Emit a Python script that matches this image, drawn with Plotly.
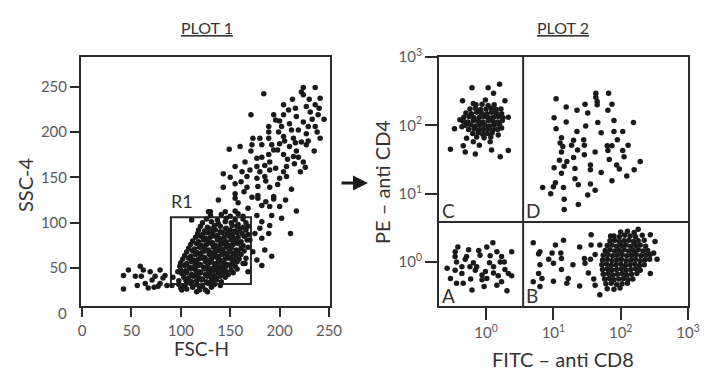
import plotly.graph_objects as go

# ---------------- PLOT 1 data (FSC-H, SSC-4) ----------------
p1_upper = [(224,249),(236,249),(184,242),(224,241),(213,236),(241,237),(204,230),(216,226),(227,228),(236,230),
            (231,222),(171,219),(194,219),(204,219),(217,217),(239,219),(224,211),(210,209),(189,206),(202,206),
            (236,206),(189,200),(199,200),(212,202),(227,198),(173,193),(180,193),(204,195),(189,193),(214,193),
            (241,193),(200,187),(222,189),(160,184),(172,186),(182,186),(192,186),(210,184),(227,186),(149,181),
            (171,179),(194,180),(217,179),(235,179),(189,175),(204,175),(214,173),(177,171),(165,167),(190,167),
            (224,167),(155,162),(177,162),(185,163),(207,162),(162,156),(170,158),(180,156),(190,158),(204,156),
            (221,156),(226,161),(143,154),(167,151),(177,149),(185,151),(200,149),(207,151),(155,143),(143,139),
            (167,139),(178,140),(190,139),(212,137),(155,132),(178,130),(194,129),(138,125),(155,127),(178,127),
            (194,126),(206,125),(130,112),(145,112),(155,113),(168,116),(182,119),(190,118),(200,118),(217,113),
            (163,107),(177,108),(192,108),(202,105),(182,101),(190,97),(168,96),(180,94),(189,88),(211,88),
            (175,88),(182,83),(170,81),(185,70),(192,63),(173,68),(177,59),(182,53),(165,55),(168,46),
            (200,212),(205,190),(219,202),(229,206),(233,214),(238,200),(216,188),(208,170),(196,160),(186,146),
            (198,142),(161,145),(172,128),(186,123),(215,165),(230,236),(222,244),(209,224),(196,213),(182,172),
            (150,150),(158,122),(164,134),(198,180),(219,172),(229,190),(245,214),(240,226)]

p1_tail = [(42,42),(42,27),(59,52),(54,41),(60,41),(64,33),(69,46),(71,37),(67,28),(74,41),
           (79,48),(77,30),(82,39),(84,42),(86,31),(79,33),(116,24),(111,103),(128,112),(62,48),
           (91,31),(92,40),(101,26),(106,34),(119,26),(127,24),(97,46),(47,48),(56,31),(73,29)]

p1_core = [(130,108),(141,109),(150,107),(158,110),
           (126,104),(137,103),(146,105),(155,103),(163,104),
           (122,100),(131,101),(138,99),(145,101),(151,100),(158,98),(166,100),
           (120,96),(127,95),(134,97),(140,96),(146,94),(152,97),(157,96),(163,95),
           (118,92),(124,91),(130,93),(135,92),(140,90),(145,93),(150,92),(155,91),(160,93),(166,92),
           (117,88),(122,87),(127,89),(132,88),(137,86),(142,89),(147,88),(152,87),(157,89),(162,88),(168,87),
           (115,84),(120,85),(125,83),(130,84),(135,85),(139,83),(144,84),(149,85),(154,83),(158,84),(164,85),
           (112,80),(118,79),(123,81),(128,80),(132,78),(137,81),(141,80),(146,79),(151,81),(156,80),(161,79),(167,81),
           (110,76),(116,77),(121,75),(126,76),(131,77),(135,75),(140,76),(144,77),(149,75),(153,76),(158,77),(163,75),
           (108,72),(114,71),(119,73),(124,72),(128,70),(133,73),(137,72),(142,71),(146,73),(151,72),(156,70),(161,72),(168,73),
           (106,68),(112,69),(117,67),(122,68),(126,69),(131,67),(135,68),(140,69),(144,67),(149,68),(153,66),(158,68),(164,69),
           (104,64),(110,63),(115,65),(120,64),(124,62),(129,65),(133,64),(138,63),(142,65),(147,64),(151,62),(156,64),(161,65),
           (102,60),(108,61),(113,59),(118,60),(122,61),(127,59),(131,60),(136,62),(140,59),(145,60),(149,61),(154,59),(159,60),(166,61),
           (100,56),(106,55),(111,57),(116,56),(120,54),(125,57),(129,56),(134,55),(138,57),(143,56),(147,54),(152,56),(157,57),(163,55),
           (99,52),(104,53),(109,51),(114,52),(118,53),(123,51),(127,52),(132,50),(136,53),(141,52),(145,51),(150,53),(155,52),
           (100,48),(105,47),(110,49),(115,48),(119,46),(124,49),(128,48),(133,47),(137,49),(142,48),(146,46),(151,48),(157,49),
           (101,44),(106,45),(111,43),(116,44),(120,45),(125,43),(129,44),(134,42),(138,45),(143,44),(148,43),(153,45),
           (103,40),(108,39),(113,41),(118,40),(122,38),(127,41),(131,40),(136,39),(140,41),(145,40),
           (98,36),(105,37),(111,35),(116,36),(121,37),(126,35),(131,36),(136,37),(141,35),
           (98,32),(104,31),(110,33),(116,32),(122,30),(128,33),(134,32),(140,31),
           (100,28),(106,27),(112,29),(119,28),(125,26),(131,29)]

fsc_ticks = [0, 50, 100, 150, 200, 250]
ssc_ticks = [50, 100, 150, 200, 250]
r1_gate = (90, 171, 32.5, 106)      # x0, x1, y0, y1 in FSC/SSC units

# ---------------- PLOT 2 data (log10 of FITC-CD8, log10 of PE-CD4) ----------------
p2_C = [(-0.21,2.55),(0.03,2.55),(0.20,2.60),(0.11,2.47),(-0.35,2.36),(-0.19,2.32),(-0.01,2.37),(0.28,2.36),
        (0.33,2.12),(-0.47,1.95),(-0.53,1.65),(-0.34,1.70),(-0.31,1.61),(-0.16,1.58),(-0.10,1.71),(0.08,1.64),
        (0.21,1.54),(0.33,1.63),(-0.29,1.81),(-0.19,1.76),(0.06,1.76),(0.18,1.86),(0.23,1.96),(-0.39,2.08),(-0.36,1.98),
        (-0.15,2.30),(-0.06,2.31),(0.03,2.29),(0.12,2.30),
        (-0.24,2.24),(-0.16,2.25),(-0.08,2.23),(0.00,2.24),(0.08,2.25),(0.15,2.23),(0.22,2.24),
        (-0.30,2.18),(-0.22,2.17),(-0.14,2.19),(-0.07,2.18),(0.01,2.17),(0.08,2.19),(0.15,2.18),(0.23,2.17),
        (-0.33,2.12),(-0.25,2.13),(-0.18,2.11),(-0.10,2.12),(-0.03,2.13),(0.04,2.11),(0.11,2.12),(0.18,2.13),(0.25,2.11),
        (-0.34,2.06),(-0.27,2.05),(-0.19,2.07),(-0.12,2.06),(-0.05,2.05),(0.03,2.07),(0.10,2.06),(0.17,2.05),(0.24,2.07),
        (-0.31,2.00),(-0.23,2.01),(-0.16,1.99),(-0.09,2.00),(-0.02,2.01),(0.05,1.99),(0.12,2.00),(0.20,2.01),
        (-0.26,1.94),(-0.18,1.95),(-0.11,1.93),(-0.04,1.94),(0.03,1.95),(0.10,1.93),(0.17,1.94),
        (-0.20,1.88),(-0.12,1.89),(-0.05,1.87),(0.02,1.88),(0.09,1.89),
        (-0.14,1.83),(-0.03,1.82),(0.07,1.83)]

p2_D = [(1.04,2.39),(1.63,2.47),(1.63,2.41),(1.82,2.47),(1.65,2.35),(1.65,2.30),(1.19,2.27),(1.47,2.31),
        (1.87,2.31),(1.35,2.22),(1.51,2.18),(1.81,2.22),(1.01,2.11),(1.19,2.05),(1.66,2.04),(1.90,2.07),
        (2.19,2.04),(1.04,1.95),(1.35,1.91),(1.48,1.99),(1.71,1.89),(1.90,1.91),(2.03,1.91),(1.12,1.82),
        (1.30,1.78),(1.45,1.79),(1.10,1.74),(1.14,1.69),(1.27,1.71),(1.46,1.71),(1.80,1.70),(1.87,1.70),
        (1.95,1.79),(2.11,1.71),(1.12,1.61),(1.36,1.64),(1.62,1.61),(1.81,1.63),(2.03,1.63),(1.46,1.57),
        (1.30,1.53),(1.83,1.50),(2.05,1.54),(1.09,1.49),(1.20,1.47),(2.29,1.47),(1.01,1.38),(1.16,1.40),
        (1.32,1.37),(1.55,1.42),(1.55,1.35),(1.94,1.42),(1.98,1.36),(1.71,1.31),(2.20,1.35),(1.12,1.30),
        (2.09,1.26),(1.32,1.22),(1.37,1.13),(1.87,1.19),(1.03,1.16),(1.55,1.14),(0.84,1.09),(1.00,1.10),
        (1.15,1.09),(1.62,1.05),(0.96,1.00),(1.51,0.98),(1.16,0.92),(1.37,0.84),(1.16,0.77)]

p2_A = [(0.10,0.28),(-0.46,0.15),(-0.46,0.08),(-0.44,0.00),(-0.26,0.18),(-0.29,0.08),(-0.11,0.17),(-0.09,0.10),
        (-0.19,-0.01),(-0.24,-0.07),(0.05,-0.01),(0.23,0.08),(0.38,0.15),(0.21,0.00),(0.28,-0.11),(-0.46,-0.12),
        (-0.36,-0.17),(-0.53,-0.24),(-0.44,-0.31),(-0.23,-0.25),(-0.06,-0.19),(-0.06,-0.26),(0.01,-0.24),(-0.01,-0.14),
        (0.11,-0.16),(0.16,-0.34),(0.23,-0.29),(0.33,-0.17),(0.38,-0.20),(-0.21,-0.41),(-0.03,-0.36),(0.31,-0.42),
        (0.11,-0.07),(-0.36,-0.07),(-0.14,-0.07),(-0.42,0.22),(-0.31,0.04),(0.01,0.22),(0.16,0.15),(0.27,0.00),
        (-0.16,-0.12),(-0.34,-0.31),(0.18,-0.20),(-0.58,-0.09),(0.06,0.09)]

p2_B = [(0.70,0.28),(1.03,0.25),(1.15,0.32),(1.56,0.40),(1.85,0.38),(1.39,0.22),(1.56,0.25),(1.69,0.25),
        (0.80,0.15),(0.78,0.12),(0.98,0.13),(1.11,0.13),(0.93,0.04),(1.12,0.05),(1.46,0.05),(1.55,0.04),
        (1.62,0.11),(0.80,-0.04),(1.00,-0.02),(1.29,-0.04),(1.47,-0.02),(1.12,-0.11),(0.78,-0.17),(1.52,-0.16),
        (0.83,-0.24),(0.70,-0.29),(1.00,-0.28),(1.22,-0.24),(1.20,-0.31),(1.39,-0.35),(0.80,-0.36),(1.60,-0.25),
        (1.62,-0.34),(1.69,-0.48),(2.44,-0.17),(2.49,0.13),(2.51,0.30),(2.54,0.04),(2.44,0.40),(2.26,0.48),
        (2.00,0.44),(2.10,0.45),(2.20,0.43),
        (1.90,0.38),(1.98,0.37),(2.06,0.39),(2.14,0.38),(2.22,0.37),(2.32,0.39),
        (1.84,0.31),(1.91,0.32),(1.98,0.30),(2.05,0.31),(2.12,0.32),(2.19,0.30),(2.26,0.31),(2.35,0.32),
        (1.80,0.24),(1.87,0.25),(1.94,0.23),(2.01,0.24),(2.08,0.25),(2.15,0.23),(2.22,0.24),(2.29,0.25),(2.37,0.23),
        (1.77,0.17),(1.84,0.18),(1.91,0.16),(1.98,0.17),(2.05,0.18),(2.12,0.16),(2.19,0.17),(2.26,0.18),(2.33,0.16),(2.40,0.17),
        (1.74,0.10),(1.81,0.11),(1.88,0.09),(1.95,0.10),(2.02,0.11),(2.09,0.09),(2.16,0.10),(2.23,0.11),(2.30,0.09),(2.37,0.10),(2.44,0.11),
        (1.73,0.03),(1.80,0.04),(1.87,0.02),(1.94,0.03),(2.01,0.04),(2.08,0.02),(2.15,0.03),(2.22,0.04),(2.29,0.02),(2.36,0.03),(2.43,0.04),
        (1.72,-0.04),(1.79,-0.03),(1.86,-0.05),(1.93,-0.04),(2.00,-0.03),(2.07,-0.05),(2.14,-0.04),(2.21,-0.03),(2.28,-0.05),(2.35,-0.04),
        (1.73,-0.11),(1.80,-0.10),(1.87,-0.12),(1.94,-0.11),(2.01,-0.10),(2.08,-0.12),(2.15,-0.11),(2.22,-0.10),(2.29,-0.12),
        (1.74,-0.18),(1.81,-0.17),(1.88,-0.19),(1.95,-0.18),(2.02,-0.17),(2.09,-0.19),(2.16,-0.18),(2.24,-0.17),
        (1.76,-0.25),(1.83,-0.24),(1.90,-0.26),(1.97,-0.25),(2.04,-0.24),(2.11,-0.26),(2.18,-0.25),
        (1.78,-0.32),(1.86,-0.31),(1.94,-0.33),(2.02,-0.32),(2.10,-0.31),
        (1.80,-0.39),(1.90,-0.40),(1.99,-0.38)]

log_ticks = [1, 10, 100, 1000]
log_ticktext = ["10<sup>0</sup>", "10<sup>1</sup>", "10<sup>2</sup>", "10<sup>3</sup>"]
cd8_gate = 3.55     # FITC-CD8 quadrant threshold
cd4_gate = 3.85     # PE-CD4 quadrant threshold
quadrant_labels = ["C", "D", "A", "B"]

# ---------------- figure ----------------
FONT = "Lato, 'Open Sans', sans-serif"
INK = "#1a1a1a"
AX = "#2b2b2b"
TICKC = "#5a5a5a"

fig = go.Figure()
p1 = p1_upper + p1_tail + p1_core
fig.add_trace(go.Scatter(x=[p[0] for p in p1], y=[p[1] for p in p1], mode="markers",
                         marker=dict(size=5.5, color=INK), xaxis="x", yaxis="y", hoverinfo="skip"))
p2 = p2_C + p2_D + p2_A + p2_B
fig.add_trace(go.Scatter(x=[10 ** p[0] for p in p2], y=[10 ** p[1] for p in p2], mode="markers",
                         marker=dict(size=5.5, color=INK), xaxis="x2", yaxis="y2", hoverinfo="skip"))

axis_common = dict(showgrid=False, zeroline=False, showline=True, mirror=True, linecolor=AX, linewidth=2,
                   ticks="outside", tickcolor=AX, tickwidth=2, automargin=False)
ydom = [66 / 372, 315 / 372]
fig.update_layout(
    width=708, height=372, autosize=False,
    margin=dict(l=0, r=0, t=0, b=0, pad=0, autoexpand=False),
    paper_bgcolor="white", plot_bgcolor="white", showlegend=False,
    xaxis=dict(domain=[81 / 708, 330 / 708], range=[-1, 251], tickvals=fsc_ticks, ticklen=9,
               ticklabelstandoff=1, anchor="y",
               tickfont=dict(family=FONT, size=15, color=TICKC), **axis_common),
    yaxis=dict(domain=ydom, range=[8.3, 282.5], tickvals=ssc_ticks, ticklen=9, anchor="x",
               tickfont=dict(family=FONT, size=15, color=TICKC), **axis_common),
    xaxis2=dict(domain=[439 / 708, 688 / 708], type="log", range=[-0.70, 3.0], tickvals=log_ticks,
                ticktext=log_ticktext, ticklen=12, anchor="y2",
                tickfont=dict(family=FONT, size=15, color=TICKC), **axis_common),
    yaxis2=dict(domain=ydom, type="log", range=[-0.644, 3.0], tickvals=log_ticks,
                ticktext=log_ticktext, ticklen=12, anchor="x2",
                tickfont=dict(family=FONT, size=15, color=TICKC), **axis_common),
)

# R1 gate
fig.add_shape(type="rect", xref="x", yref="y", x0=r1_gate[0], x1=r1_gate[1], y0=r1_gate[2], y1=r1_gate[3],
              line=dict(color=AX, width=2), layer="below")
# quadrant lines
fig.add_shape(type="line", xref="x2", yref="y2 domain", x0=cd8_gate, x1=cd8_gate, y0=0, y1=1,
              line=dict(color=AX, width=2))
fig.add_shape(type="line", xref="x2 domain", yref="y2", x0=0, x1=1, y0=cd4_gate, y1=cd4_gate,
              line=dict(color=AX, width=2))

def ann(text, x, y, size, color="#333333", xanchor="center", yanchor="middle", angle=0):
    fig.add_annotation(text=text, x=x, y=y, xref="paper", yref="paper", showarrow=False,
                       xanchor=xanchor, yanchor=yanchor, textangle=angle,
                       font=dict(family=FONT, size=size, color=color))

ann("<u>PLOT 1</u>", 207 / 708, 1 - 27 / 372, 16)
ann("<u>PLOT 2</u>", 563 / 708, 1 - 27 / 372, 16)
ann("FSC-H", 201 / 708, 1 - 348 / 372, 19)
ann("SSC-4", 25 / 708, 1 - 185 / 372, 20, angle=-90)
ann("FITC \u2013 anti CD8", 563 / 708, 1 - 359 / 372, 20)
ann("PE \u2013 anti CD4", 382 / 708, 1 - 182 / 372, 20, angle=-90)
ann("0", 69 / 708, 1 - 313 / 372, 15, color=TICKC, xanchor="right")
ann("R1", 169 / 708, 1 - 214 / 372, 18, xanchor="left", yanchor="bottom")
ann(quadrant_labels[0], 440 / 708, 1 - 224 / 372, 19, xanchor="left", yanchor="bottom")
ann(quadrant_labels[1], 524 / 708, 1 - 224 / 372, 19, xanchor="left", yanchor="bottom")
ann(quadrant_labels[2], 440 / 708, 1 - 309 / 372, 19, xanchor="left", yanchor="bottom")
ann(quadrant_labels[3], 524 / 708, 1 - 309 / 372, 19, xanchor="left", yanchor="bottom")

# arrow between the plots
fig.add_annotation(x=368 / 708, y=1 - 183 / 372, xref="paper", yref="paper", ax=-28, ay=0,
                   axref="pixel", ayref="pixel", showarrow=True, arrowhead=2, arrowsize=1,
                   arrowwidth=3, arrowcolor=INK, text="")

fig.write_html("out.html", config={"displayModeBar": False},
               post_script="document.body.style.margin='0';")
